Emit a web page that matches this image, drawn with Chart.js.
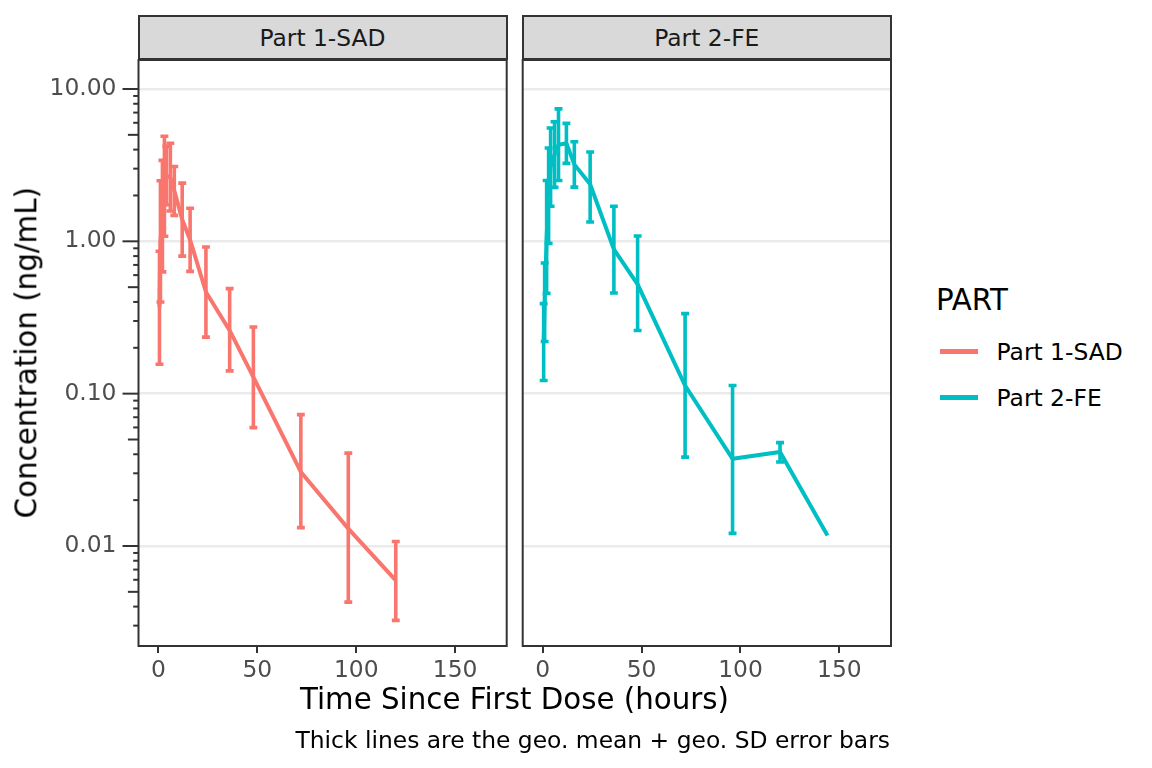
<!DOCTYPE html>
<html>
<head>
<meta charset="utf-8">
<script src="https://cdn.jsdelivr.net/npm/chart.js@4.4.1/dist/chart.umd.min.js"></script>
<style>
  html, body { margin:0; padding:0; background:#ffffff; }
  body { width:1152px; height:768px; position:relative; overflow:hidden; font-family:"DejaVu Sans", sans-serif; }
  canvas { position:absolute; top:0; }
  .txt { position:absolute; white-space:nowrap; line-height:1; }
  .strip { position:absolute; top:15px; height:45px; background:#d9d9d9; border:2px solid #333333; box-sizing:border-box; }
  .key { position:absolute; left:940px; width:38px; height:4.5px; }
</style>
</head>
<body>
<div class="strip" style="left:137.5px; width:370px;"></div>
<div class="strip" style="left:521.8px; width:370px;"></div>
<div class="txt" id="strip1" style="left:137.5px; width:370px; top:27px; text-align:center; font-size:23.4px; color:#1a1a1a;"></div>
<div class="txt" id="strip2" style="left:521.8px; width:370px; top:27px; text-align:center; font-size:23.4px; color:#1a1a1a;"></div>

<canvas id="c1" width="515" height="768" style="left:0px; width:515px; height:768px;"></canvas>
<canvas id="c2" width="400" height="768" style="left:515px; width:400px; height:768px;"></canvas>

<div class="txt" id="ytitle" style="left:-173px; width:400px; top:338.4px; height:29.3px; text-align:center; font-size:29.3px; color:#000; transform:rotate(-90deg); transform-origin:50% 50%;">Concentration (ng/mL)</div>
<div class="txt" id="xtitle" style="left:214.5px; width:600px; top:685px; text-align:center; font-size:29.3px; color:#000;">Time Since First Dose (hours)</div>
<div class="txt" id="caption" style="left:290px; width:600px; top:728.5px; text-align:right; font-size:23.4px; color:#000;">Thick lines are the geo. mean + geo. SD error bars</div>

<div class="txt" id="legtitle" style="left:936px; top:286px; font-size:29.3px; color:#000;">PART</div>
<div class="key" id="key1" style="top:349px;"></div>
<div class="key" id="key2" style="top:395px;"></div>
<div class="txt" id="leg1" style="left:996.5px; top:340.5px; font-size:23.4px; color:#000;"></div>
<div class="txt" id="leg2" style="left:996.5px; top:386.5px; font-size:23.4px; color:#000;"></div>

<script>
// ---------------- data ----------------
const panelNames = ['Part 1-SAD', 'Part 2-FE'];
const seriesColors = ['#F8766D', '#00BFC4'];

const sadTime = [0.5, 1, 2, 3, 4, 6, 8, 12, 16, 24, 36, 48, 72, 96, 120];
const sadMean = [0.37, 1.0, 1.46, 2.3, 2.7, 2.63, 2.15, 1.39, 1.02, 0.465, 0.260, 0.1285, 0.0306, 0.0130, 0.00594];
const sadLow  = [0.156, 0.40, 0.63, 1.08, 1.74, 1.58, 1.48, 0.80, 0.635, 0.235, 0.141, 0.0598, 0.0132, 0.00428, 0.00325];
const sadHigh = [0.86, 2.5, 3.4, 4.9, 4.2, 4.4, 3.1, 2.41, 1.65, 0.917, 0.489, 0.274, 0.0728, 0.0407, 0.0107];

const feTime = [0.5, 1, 2, 3, 4, 6, 8, 12, 16, 24, 36, 48, 72, 96, 120, 144];
const feMean = [0.218, 0.40, 1.07, 2.0, 3.07, 3.7, 4.3, 4.4, 3.2, 2.37, 0.886, 0.522, 0.113, 0.0374, 0.0414, 0.0117];
const feLow  = [0.122, 0.22, 0.455, 0.97, 1.7, 2.26, 2.51, 3.25, 2.27, 1.34, 0.458, 0.26, 0.0383, 0.0121, 0.0356, null];
const feHigh = [0.39, 0.72, 2.51, 4.1, 5.55, 6.1, 7.4, 5.95, 4.5, 3.86, 1.70, 1.083, 0.335, 0.113, 0.0477, null];

const xTicks = [0, 50, 100, 150];
const xTickLabels = ['0', '50', '100', '150'];
const yMajorTicks = [0.01, 0.1, 1, 10];
const yTickLabels = ['0.01', '0.10', '1.00', '10.00'];
const yMidTicks = [0.005, 0.05, 0.5, 5];
const yMinorTicks = [0.003, 0.004, 0.006, 0.007, 0.008, 0.009,
                     0.02, 0.03, 0.04, 0.06, 0.07, 0.08, 0.09,
                     0.2, 0.3, 0.4, 0.6, 0.7, 0.8, 0.9,
                     2, 3, 4, 6, 7, 8, 9];
const legendTitle = 'PART';

// ---------------- style ----------------
const X_MIN = -10.1, X_MAX = 176.1;
const Y_MIN = 0.002205, Y_MAX = 15.5;
const CAP_HALF_HOURS = 2.0;
const FONT = '"DejaVu Sans", sans-serif';
const DARK = '#333333';

document.getElementById('strip1').textContent = panelNames[0];
document.getElementById('strip2').textContent = panelNames[1];
document.getElementById('leg1').textContent = panelNames[0];
document.getElementById('leg2').textContent = panelNames[1];
document.getElementById('legtitle').textContent = legendTitle;
document.getElementById('key1').style.background = seriesColors[0];
document.getElementById('key2').style.background = seriesColors[1];

const allYTicks = [...yMinorTicks, ...yMidTicks, ...yMajorTicks].sort((a, b) => a - b);

const errorBarPlugin = {
  id: 'errorBars',
  afterDatasetsDraw(chart) {
    const {ctx, chartArea} = chart;
    const xs = chart.scales.x, ys = chart.scales.y;
    ctx.save();
    ctx.beginPath();
    ctx.rect(chartArea.left, chartArea.top, chartArea.width, chartArea.height);
    ctx.clip();
    chart.data.datasets.forEach(ds => {
      ds.data.forEach((p, i) => {
        const lo = ds.errLow[i], hi = ds.errHigh[i];
        if (lo == null || hi == null) return;
        const px = xs.getPixelForValue(p.x);
        const x0 = xs.getPixelForValue(p.x - CAP_HALF_HOURS);
        const x1 = xs.getPixelForValue(p.x + CAP_HALF_HOURS);
        const y0 = ys.getPixelForValue(lo);
        const y1 = ys.getPixelForValue(hi);
        ctx.strokeStyle = ds.borderColor;
        ctx.lineWidth = 3.6;
        ctx.lineCap = 'butt';
        ctx.beginPath();
        ctx.moveTo(px, y0); ctx.lineTo(px, y1);
        ctx.moveTo(x0, y0); ctx.lineTo(x1, y0);
        ctx.moveTo(x0, y1); ctx.lineTo(x1, y1);
        ctx.stroke();
      });
    });
    ctx.restore();
  },
  afterDraw(chart, args, opts) {
    const {ctx, chartArea} = chart;
    ctx.save();
    ctx.strokeStyle = DARK;
    ctx.lineWidth = 2;
    ctx.strokeRect(chartArea.left, chartArea.top, chartArea.width, chartArea.height);
    if (opts && opts.logTicks) {
      const ys = chart.scales.y;
      allYTicks.forEach(v => {
        let len = 5.3;
        if (yMajorTicks.includes(v)) len = 16;
        else if (yMidTicks.includes(v)) len = 10.6;
        const py = ys.getPixelForValue(v);
        ctx.beginPath();
        ctx.moveTo(chartArea.left - len, py);
        ctx.lineTo(chartArea.left, py);
        ctx.stroke();
      });
    }
    ctx.restore();
  }
};

function makeChart(canvasId, times, means, lows, highs, color, isLeft) {
  const pts = times.map((t, i) => ({x: t, y: means[i]}));
  return new Chart(document.getElementById(canvasId), {
    type: 'line',
    data: {
      datasets: [{
        data: pts,
        errLow: lows,
        errHigh: highs,
        borderColor: color,
        backgroundColor: color,
        borderWidth: 4,
        pointRadius: 0,
        pointHoverRadius: 0,
        tension: 0,
        fill: false,
        clip: 0
      }]
    },
    options: {
      responsive: false,
      animation: false,
      events: [],
      layout: {
        padding: isLeft ? {left: 0, top: 60, right: 8.3, bottom: 77}
                        : {left: 7.7, top: 60, right: 24, bottom: 77}
      },
      plugins: {
        legend: {display: false},
        tooltip: {enabled: false},
        title: {display: false},
        errorBars: {logTicks: isLeft}
      },
      scales: {
        x: {
          type: 'linear',
          min: X_MIN,
          max: X_MAX,
          bounds: 'data',
          afterBuildTicks: (scale) => { scale.ticks = xTicks.map(v => ({value: v})); },
          afterFit: (scale) => { scale.height = 45; },
          grid: {display: true, drawOnChartArea: false, drawTicks: true, tickLength: 7, tickColor: DARK, tickWidth: 2, color: DARK, lineWidth: 2},
          border: {display: false},
          ticks: {
            autoSkip: false,
            maxRotation: 0,
            padding: 4,
            color: '#4d4d4d',
            font: {family: FONT, size: 23.4},
            callback: (v) => { const k = xTicks.indexOf(v); return k >= 0 ? xTickLabels[k] : ''; }
          }
        },
        y: {
          type: 'logarithmic',
          min: Y_MIN,
          max: Y_MAX,
          bounds: 'data',
          afterBuildTicks: (scale) => { scale.ticks = allYTicks.map(v => ({value: v, major: yMajorTicks.includes(v)})); },
          afterFit: (scale) => { scale.width = isLeft ? 138.5 : 0; },
          grid: {
            display: true,
            drawTicks: false,
            lineWidth: 2.5,
            color: (c) => (c.tick && yMajorTicks.includes(c.tick.value)) ? '#ebebeb' : 'rgba(0,0,0,0)'
          },
          border: {display: false},
          ticks: {
            display: isLeft,
            autoSkip: false,
            padding: 22,
            color: '#4d4d4d',
            font: {family: FONT, size: 23.4},
            callback: (v) => { const k = yMajorTicks.indexOf(v); return k >= 0 ? yTickLabels[k] : ''; }
          }
        }
      }
    },
    plugins: [errorBarPlugin]
  });
}

makeChart('c1', sadTime, sadMean, sadLow, sadHigh, seriesColors[0], true);
makeChart('c2', feTime, feMean, feLow, feHigh, seriesColors[1], false);
</script>
</body>
</html>
